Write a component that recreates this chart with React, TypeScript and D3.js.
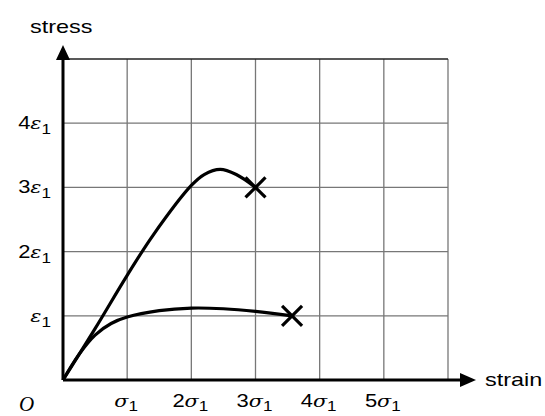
import React from "react";
import * as d3 from "d3";

// curves (strain in σ1, stress in ε1)
const upperStrain = [0, 0.5, 1, 1.4, 2, 2.2, 2.45, 2.7, 3];
const upperStress = [0, 0.8, 1.63, 2.25, 3.03, 3.2, 3.28, 3.2, 3.0];
const lowerStrain = [0, 0.25, 0.5, 0.75, 1, 1.5, 2, 2.5, 3, 3.57];
const lowerStress = [0, 0.4, 0.7, 0.88, 0.98, 1.08, 1.12, 1.11, 1.07, 1.0];
const breakPoints = [
  [3, 3.0],
  [3.57, 1.0],
];
const xTicks = [1, 2, 3, 4, 5];
const xTickPrefix = ["", "2", "3", "4", "5"];
const yTicks = [1, 2, 3, 4];
const yTickPrefix = ["", "2", "3", "4"];

const App = () => {
  const width = 545;
  const height = 416;
  const x = d3.scaleLinear().domain([0, 6]).range([63, 448]);
  const y = d3.scaleLinear().domain([0, 5]).range([380, 59]);

  const line = d3
    .line<number[]>()
    .x((d) => x(d[0]))
    .y((d) => y(d[1]))
    .curve(d3.curveCatmullRom.alpha(0.5));

  const upper = upperStrain.map((s, i) => [s, upperStress[i]]);
  const lower = lowerStrain.map((s, i) => [s, lowerStress[i]]);

  const font = "Liberation Sans, Arial, sans-serif";
  const gridColor = "#777";
  const stretch = 1.22; // the picture's text is a bit wider than tall

  const greek = (ch: string) => (
    <tspan fontStyle="italic" fontFamily="DejaVu Serif, serif" fontSize={17}>
      {ch}
    </tspan>
  );

  return (
    <svg
      width={width}
      height={height}
      style={{ position: "absolute", left: 0, top: 0, background: "#fff" }}
      fontFamily={font}
    >
      {/* grid */}
      {d3.range(1, 7).map((v) => (
        <line key={"v" + v} x1={x(v)} x2={x(v)} y1={y(0)} y2={y(5)} stroke={gridColor} strokeWidth={1.3} />
      ))}
      {d3.range(1, 6).map((v) => (
        <line key={"h" + v} x1={x(0)} x2={x(6)} y1={y(v)} y2={y(v)} stroke={v === 5 ? "#222" : gridColor} strokeWidth={1.3} />
      ))}

      {/* axes */}
      <line x1={x(0)} x2={461} y1={y(0)} y2={y(0)} stroke="#000" strokeWidth={3} />
      <line x1={x(0)} x2={x(0)} y1={y(0)} y2={59} stroke="#000" strokeWidth={3} />
      <path d={`M${x(0)},45 L${x(0) - 7},60 L${x(0) + 7},60 Z`} fill="#000" />
      <path d={`M476,${y(0)} L460,${y(0) - 7} L460,${y(0) + 7} Z`} fill="#000" />

      {/* curves */}
      <path d={line(upper) ?? ""} fill="none" stroke="#000" strokeWidth={3.2} />
      <path d={line(lower) ?? ""} fill="none" stroke="#000" strokeWidth={3.2} />

      {/* break markers */}
      {breakPoints.map(([s, e], i) => {
        const cx = x(s);
        const cy = y(e);
        const r = 10;
        return (
          <g key={"b" + i} stroke="#000" strokeWidth={3.2}>
            <line x1={cx - r} y1={cy - r} x2={cx + r} y2={cy + r} />
            <line x1={cx - r} y1={cy + r} x2={cx + r} y2={cy - r} />
          </g>
        );
      })}

      {/* y tick labels */}
      {yTicks.map((v, i) => (
        <g key={"yt" + v} transform={`translate(51,${y(v) + 6}) scale(${stretch},1)`}>
          <text x={0} y={0} textAnchor="end" fontSize={18}>
            {yTickPrefix[i]}
            {greek("ε")}
            <tspan dy={5} fontSize={14}>1</tspan>
          </text>
        </g>
      ))}

      {/* x tick labels */}
      {xTicks.map((v, i) => (
        <g key={"xt" + v} transform={`translate(${x(v) - 1},407) scale(${stretch},1)`}>
          <text x={0} y={0} textAnchor="middle" fontSize={18}>
            {xTickPrefix[i]}
            {greek("σ")}
            <tspan dy={4} fontSize={14}>1</tspan>
          </text>
        </g>
      ))}

      <text x={19} y={411} fontSize={21} fontStyle="italic" fontFamily="Liberation Serif, Times New Roman, serif">
        O
      </text>
      <g transform={`translate(30,33) scale(1.3,1)`}>
        <text x={0} y={0} fontSize={18}>
          stress
        </text>
      </g>
      <g transform={`translate(485,386) scale(1.3,1)`}>
        <text x={0} y={0} fontSize={18}>
          strain
        </text>
      </g>
    </svg>
  );
};

export default App;
